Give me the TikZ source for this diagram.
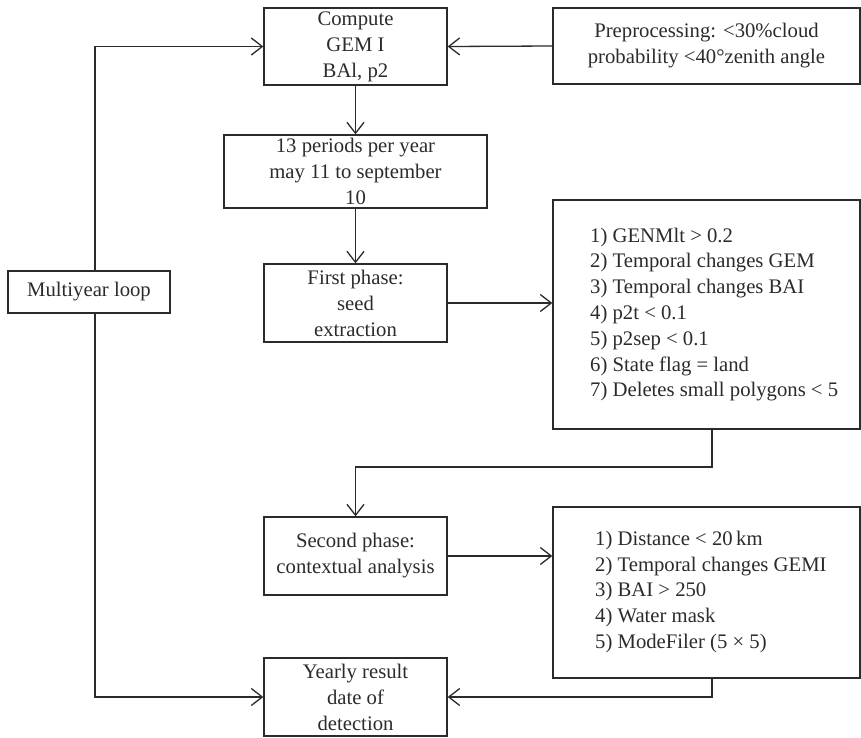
\documentclass[tikz,border=0pt]{standalone}
\usepackage{fontspec}
\setmainfont{Liberation Serif}
\usetikzlibrary{arrows.meta}
\definecolor{ink}{HTML}{2B2B2B}
\tikzset{
  box/.style={draw=ink, line width=1.3pt, rectangle, inner sep=0pt, text=ink,
    align=center, font=\fontsize{20.7}{26}\selectfont},
  lst/.style={text=ink, align=left, inner sep=0pt, anchor=west,
    font=\fontsize{20.7}{25.8}\selectfont},
  conn/.style={draw=ink, line width=1.3pt},
  arr/.style={conn, -{Straight Barb[length=11pt,width=17pt,line width=1.3pt]}}
}
\begin{document}
\begin{tikzpicture}[x=1pt,y=-1pt]
\useasboundingbox (0,0) rectangle (861,737);
\node[box, minimum width=183pt, minimum height=77pt] (comp) at (355.5,46.5) {Compute\\GEM I\\BAl, p2};
\node[box, minimum width=307pt, minimum height=76pt] (pre) at (706.5,46) {Preprocessing: <30\%cloud\\probability <40°zenith angle};
\node[box, minimum width=263pt, minimum height=73pt] (per) at (355.5,171.5) {13 periods per year\\may 11 to september\\10};
\node[box, minimum width=162pt, minimum height=42pt] (loop) at (89,292) {Multiyear loop};
\node[box, minimum width=183pt, minimum height=78pt] (fp) at (355.5,303) {First phase:\\seed\\extraction};
\node[box, minimum width=307pt, minimum height=229pt] (c1) at (706.5,314.5) {};
\node[lst] (c1t) at (590,314.5) {1) GENMlt > 0.2\\2) Temporal changes GEM\\3) Temporal changes BAI\\4) p2t < 0.1\\5) p2sep < 0.1\\6) State flag = land\\7) Deletes small polygons < 5};
\node[box, minimum width=183pt, minimum height=78pt] (sp) at (355.5,556) {Second phase:\\contextual analysis};
\node[box, minimum width=307pt, minimum height=171pt] (c2) at (706.5,592.5) {};
\node[lst] (c2t) at (595,592) {1) Distance < 20\,km\\2) Temporal changes GEMI\\3) BAI > 250\\4) Water mask\\5) ModeFiler (5 × 5)};
\node[box, minimum width=183pt, minimum height=78pt] (yr) at (355.5,697) {Yearly result\\date of\\detection};
\coordinate (lx) at (95,0);
\coordinate (rx) at (712,0);
\draw[arr] (lx |- loop.north) |- (comp.west);
\draw[arr] (lx |- loop.south) |- (yr.west);
\draw[arr] (pre.west) -- (comp.east);
\draw[arr] (comp.south) -- (per.north);
\draw[arr] (per.south) -- (fp.north);
\draw[arr] (fp.east) -- (c1.west |- fp.east);
\coordinate (k1) at (712,467);
\draw[arr] (rx |- c1.south) -- (k1) -| (sp.north);
\draw[arr] (sp.east) -- (c2.west |- sp.east);
\draw[arr] (rx |- c2.south) |- (yr.east);
\end{tikzpicture}
\end{document}
